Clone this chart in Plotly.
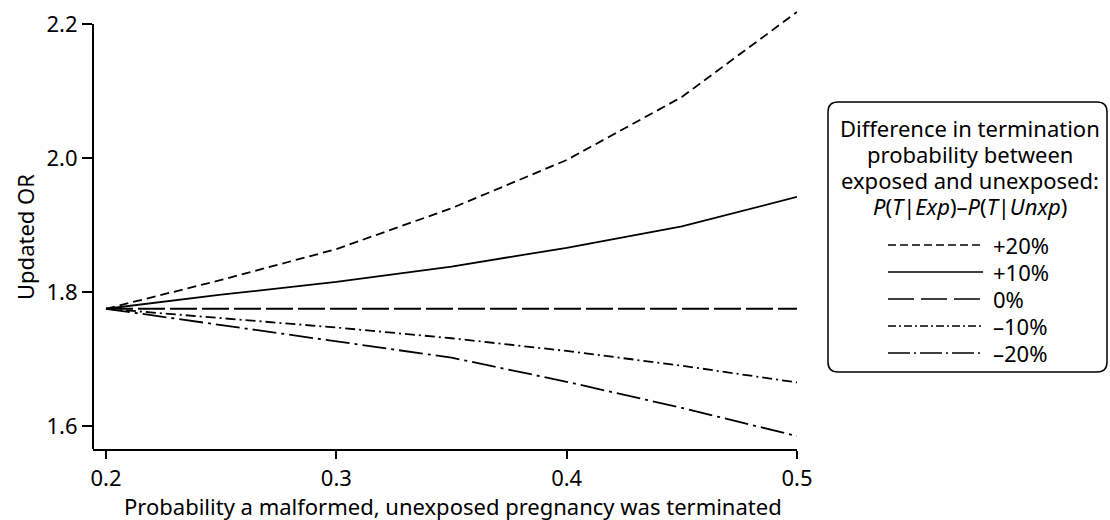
import plotly.graph_objects as go

# Probability a malformed, unexposed pregnancy was terminated
p_unexposed = [0.2, 0.25, 0.3, 0.35, 0.4, 0.45, 0.5]

# Updated OR for each difference in termination probability
or_plus20 = [1.775, 1.818, 1.864, 1.925, 1.997, 2.091, 2.218]
or_plus10 = [1.775, 1.796, 1.815, 1.838, 1.866, 1.898, 1.942]
or_zero = [1.775, 1.775, 1.775, 1.775, 1.775, 1.775, 1.775]
or_minus10 = [1.775, 1.761, 1.747, 1.731, 1.712, 1.690, 1.665]
or_minus20 = [1.775, 1.751, 1.727, 1.702, 1.666, 1.627, 1.585]

series_labels = ["+20%", "+10%", "0%", "\u201310%", "\u201320%"]
series_values = [or_plus20, or_plus10, or_zero, or_minus10, or_minus20]

x_ticks = [0.2, 0.3, 0.4, 0.5]
y_ticks = [1.6, 1.8, 2.0, 2.2]

FONT = "Noto Sans"
FS = 22

# canvas geometry (pixels)
W, H = 1110, 520
L, R, T, B = 93, 797, 8, 449
PW, PH = R - L, B - T

x_range = [0.2 - 13 / 2303, 0.5]
y_range = [1.6 - 23 / 670, 2.2 + 16 / 670]

plot_dashes = ["9px,5px", "solid", "27px,5px", "10px,4px,2px,4px", "24px,5px,3px,5px"]
key_dashes = ["8px,4px", "solid", "26px,7px", "8px,3px,2px,3px", "22px,4px,2px,4px"]


def px(xp):
    return (xp - L) / PW


def py(yp):
    return (B - yp) / PH


fig = go.Figure()
for label, vals, dash in zip(series_labels, series_values, plot_dashes):
    fig.add_trace(go.Scatter(
        x=p_unexposed, y=vals, mode="lines", name=label,
        line=dict(color="black", width=1.8, dash=dash),
        showlegend=False, hoverinfo="x+y+name",
    ))

shapes = []
annotations = []

# left axis line, running from the bottom up to the top tick
shapes.append(dict(type="line", xref="paper", yref="y", x0=0, x1=0,
                   y0=y_range[0], y1=y_ticks[-1],
                   line=dict(color="black", width=2)))

# axis titles
annotations.append(dict(text="Updated OR", xref="paper", yref="paper",
                        x=px(25), y=py(237), textangle=-90, showarrow=False,
                        xanchor="center", yanchor="middle",
                        font=dict(family=FONT, size=FS, color="black")))
annotations.append(dict(text="Probability a malformed, unexposed pregnancy was terminated",
                        xref="paper", yref="paper", x=px(453), y=py(506),
                        showarrow=False, xanchor="center", yanchor="middle",
                        font=dict(family=FONT, size=FS, color="black")))

# key box with rounded corners
bx0, bx1, by0, by1, rad = 828, 1107, 102, 372, 10
rx, ry = rad / PW, rad / PH
X0, X1, Y0, Y1 = px(bx0), px(bx1), py(by1), py(by0)
path = (f"M {X0 + rx},{Y1} L {X1 - rx},{Y1} Q {X1},{Y1} {X1},{Y1 - ry} "
        f"L {X1},{Y0 + ry} Q {X1},{Y0} {X1 - rx},{Y0} "
        f"L {X0 + rx},{Y0} Q {X0},{Y0} {X0},{Y0 + ry} "
        f"L {X0},{Y1 - ry} Q {X0},{Y1} {X0 + rx},{Y1} Z")
shapes.append(dict(type="path", xref="paper", yref="paper", path=path,
                   line=dict(color="black", width=1.5), fillcolor="white"))

key_title = [
    "Difference in termination",
    "probability between",
    "exposed and unexposed:",
    "<i>P</i>(<i>T</i>|<i>Exp</i>)\u2013<i>P</i>(<i>T</i>|<i>Unxp</i>)",
]
for i, line in enumerate(key_title):
    annotations.append(dict(text=line, xref="paper", yref="paper",
                            x=px(970), y=py(128 + 26 * i), showarrow=False,
                            xanchor="center", yanchor="middle",
                            font=dict(family=FONT, size=FS, color="black")))

for i, (label, dash) in enumerate(zip(series_labels, key_dashes)):
    yc = 245 + 27 * i
    shapes.append(dict(type="line", xref="paper", yref="paper",
                       x0=px(888), x1=px(983), y0=py(yc), y1=py(yc),
                       line=dict(color="black", width=1.3, dash=dash)))
    annotations.append(dict(text=label, xref="paper", yref="paper",
                            x=px(991), y=py(yc), showarrow=False,
                            xanchor="left", yanchor="middle",
                            font=dict(family=FONT, size=FS, color="black")))

fig.update_layout(
    width=W, height=H,
    margin=dict(l=L, r=W - R, t=T, b=H - B, pad=0),
    paper_bgcolor="white", plot_bgcolor="white",
    font=dict(family=FONT, size=FS, color="black"),
    shapes=shapes, annotations=annotations,
    xaxis=dict(range=x_range, tickvals=x_ticks, tickformat=".1f",
               showgrid=False, zeroline=False, showline=True,
               linecolor="black", linewidth=2, ticks="outside",
               ticklen=8, tickwidth=2, tickcolor="black",
               ticklabelstandoff=1,
               tickfont=dict(family=FONT, size=FS, color="black")),
    yaxis=dict(range=y_range, tickvals=y_ticks, tickformat=".1f",
               showgrid=False, zeroline=False, showline=False,
               ticks="outside", ticklen=10, tickwidth=2, tickcolor="black",
               tickfont=dict(family=FONT, size=FS, color="black")),
)

fig.write_html("out.html")
